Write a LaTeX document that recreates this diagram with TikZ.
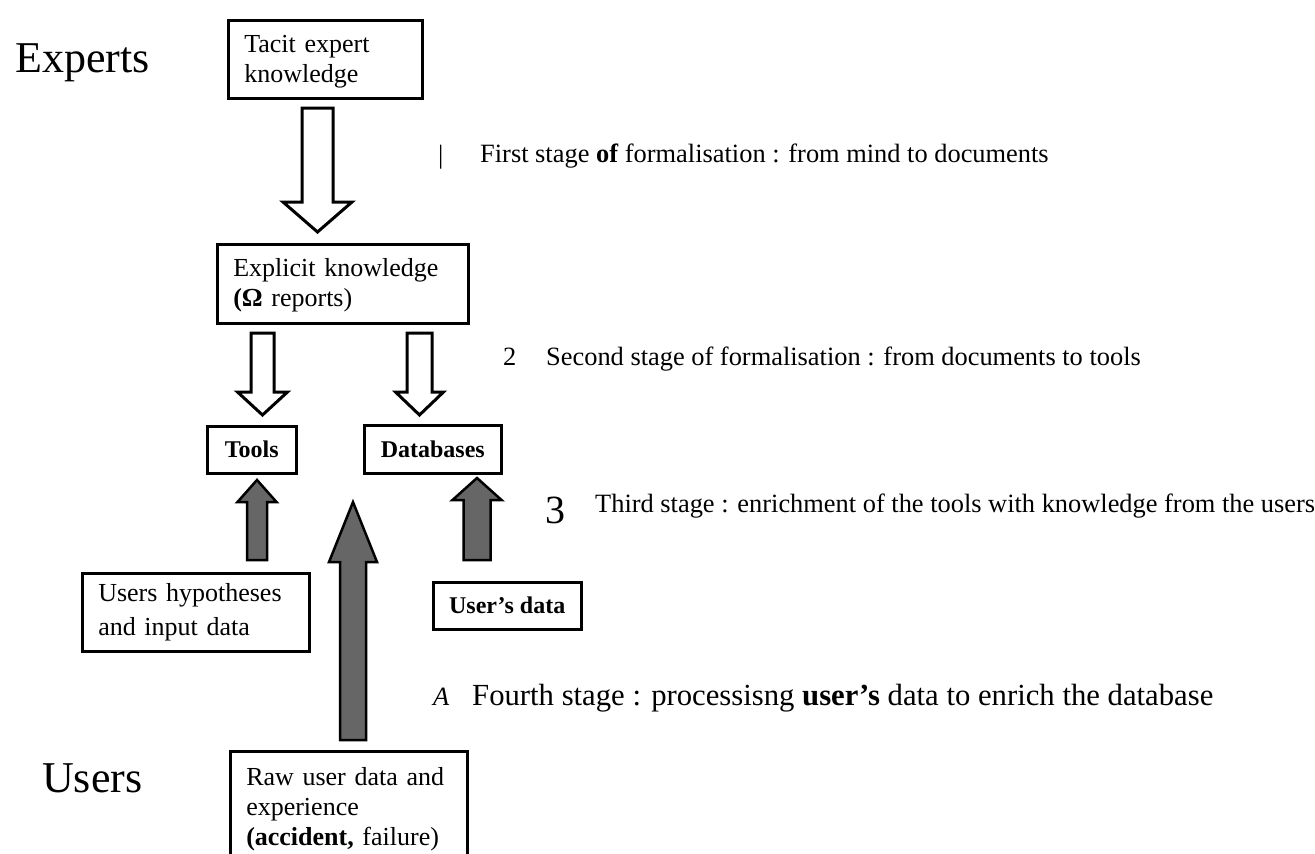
\documentclass[tikz,border=0pt]{standalone}
\usepackage{fontspec}
\setmainfont{Liberation Serif}
\usetikzlibrary{calc}

% block arrow: style, tail, tip, shaft half width, head half width, head length
\newcommand{\blockarrow}[6]{%
  \draw[#1] let \p1=(#2), \p2=(#3), \p3=($(#3)!#6!(#2)$) in
    (\x1-#4,\y1) -- (\x1-#4,\y3) -- (\x1-#5,\y3) -- (\p2)
    -- (\x1+#5,\y3) -- (\x1+#4,\y3) -- (\x1+#4,\y1) -- cycle;}

\begin{document}
\begin{tikzpicture}
  [x=1pt,y=-1pt,every node/.style={inner sep=0pt},
   box/.style={draw,line width=2.5pt,anchor=north west,align=left,
     inner xsep=16pt,font=\fontsize{26}{30}\selectfont},
   tag/.style={draw,line width=2.5pt,anchor=north west,
     font=\fontsize{24}{28}\selectfont\bfseries},
   stage/.style={anchor=base west,font=\fontsize{26.4}{30}\selectfont},
   side/.style={anchor=base west,font=\fontsize{44}{50}\selectfont},
   openarrow/.style={draw,line width=3pt,fill=white,line join=miter},
   darkarrow/.style={draw,line width=2.5pt,fill=black!60,line join=miter}]
  \useasboundingbox (0,0) rectangle (1315,854);

  \node[side] (experts) at (15,72) {Experts};
  \node[side] (users) at (42,792) {Users};

  \node[box,text width=162pt,minimum height=78pt] (tacit) at (227,19)
    {\rule{0pt}{22pt}Tacit expert\\knowledge};
  \node[box,text width=219pt,minimum height=79pt] (explicit) at (216,243)
    {\rule{0pt}{22pt}Explicit knowledge\\\textbf{(Ω} reports)};
  \node[tag,minimum width=89pt,minimum height=47pt] (tools) at (206,425) {Tools};
  \node[tag,minimum width=137pt,minimum height=48pt] (db) at (363,424) {Databases};
  \node[box,text width=195pt,minimum height=78pt,font=\fontsize{26}{34}\selectfont] (hypo) at (81,572)
    {Users hypotheses\\and input data};
  \node[tag,minimum width=148pt,minimum height=47pt] (udata) at (432,581) {User's data};
  \node[box,text width=205pt,minimum height=115pt] (raw) at (229,750)
    {Raw user data and\\experience\\\textbf{(accident,} failure)};

  \node[stage] (n1) at (438,163) {|};
  \node[stage] (s1) at (480,162) {First stage \textbf{of} formalisation : from mind to documents};
  \node[stage] (n2) at (503,365) {2};
  \node[stage] (s2) at (546,365) {Second stage of formalisation : from documents to tools};
  \node[stage,font=\fontsize{40}{44}\selectfont] (n3) at (545,523) {3};
  \node[stage] (s3) at (595,512) {Third stage : enrichment of the tools with knowledge from the users};
  \node[stage] (n4) at (433,705) {\textit{A}};
  \node[stage,font=\fontsize{30.7}{34}\selectfont] (s4) at (472,705)
    {Fourth stage : processisng \textbf{user's} data to enrich the database};

  \coordinate (a1s) at (317.5,108); \coordinate (a1e) at (317.5,232);
  \coordinate (a2s) at (262.5,333); \coordinate (a2e) at (262.5,415);
  \coordinate (a3s) at (419.5,333); \coordinate (a3e) at (419.5,415);
  \coordinate (b1s) at (257,560);   \coordinate (b1e) at (257,480);
  \coordinate (b2s) at (353,740);   \coordinate (b2e) at (353,502);
  \coordinate (b3s) at (477,560);   \coordinate (b3e) at (477,478);

  \foreach \from/\to/\sw/\hw/\hl in {a1s/a1e/15.5pt/34.5pt/30pt,
      a2s/a2e/11.5pt/25pt/23pt,a3s/a3e/12.5pt/24pt/23pt}
    \blockarrow{openarrow}{\from}{\to}{\sw}{\hw}{\hl};
  \foreach \from/\to/\sw/\hw/\hl in {b1s/b1e/10pt/19.5pt/22pt,
      b2s/b2e/13pt/24pt/60pt,b3s/b3e/13.5pt/24.5pt/22pt}
    \blockarrow{darkarrow}{\from}{\to}{\sw}{\hw}{\hl};
\end{tikzpicture}
\end{document}
